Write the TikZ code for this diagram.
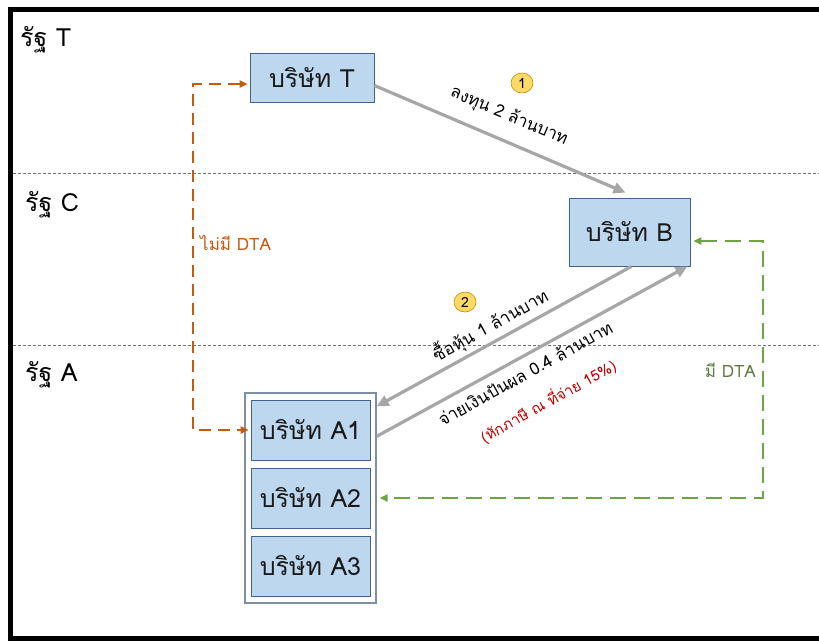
\documentclass[tikz,border=0pt]{standalone}
\usepackage{fontspec}
\setmainfont[Script=Thai]{Loma}
\usetikzlibrary{arrows.meta,calc,shapes.geometric}
\definecolor{boxfill}{HTML}{BDD7EE}
\definecolor{boxline}{HTML}{41648C}
\definecolor{holder}{HTML}{7E8FA3}
\definecolor{flowgray}{HTML}{A6A6A6}
\definecolor{orangeflow}{HTML}{C55A11}
\definecolor{greenflow}{HTML}{6EA544}
\definecolor{greentext}{HTML}{5E7A44}
\definecolor{badge}{HTML}{FFD966}
\definecolor{badgeline}{HTML}{BF9000}
\definecolor{taxred}{HTML}{C00000}
\tikzset{
  company/.style={draw=boxline, line width=0.8pt, fill=boxfill, minimum width=#1,
    font=\fontsize{25}{27}\selectfont, text=black!90, inner sep=0pt},
  statelabel/.style={font=\fontsize{25}{27}\selectfont, anchor=west, inner sep=0pt},
  border/.style={draw=black!55, line width=0.7pt, dash pattern=on 3pt off 2pt},
  money/.style={draw=flowgray, line width=3.2pt,
    -{Triangle[length=12pt,width=11pt]}},
  flowtext/.style={font=\fontsize{17}{19}\selectfont, inner sep=0pt},
  badgemark/.style={ellipse, draw=badgeline, line width=0.6pt, fill=badge,
    minimum width=22pt, minimum height=20pt, inner sep=0pt, font=\fontsize{14}{15}\selectfont},
  dtalink/.style={line width=2pt, {Triangle[length=8pt,width=7pt]}-{Triangle[length=8pt,width=7pt]}},
}
\begin{document}
\begin{tikzpicture}[x=1pt,y=-1pt]
\useasboundingbox (0,0) rectangle (819,641);
\begin{scope}
\clip (0,0) rectangle (819,641);
% outer frame
\draw[line width=4.5pt] (10.5,9.7) rectangle (840,638.5);
\end{scope}

% jurisdiction boundaries
\draw[border] (12.7,173) -- (819,173);
\draw[border] (12.7,345) -- (819,345);

\node[statelabel] (sT) at (20,40) {รัฐ T};
\node[statelabel] (sC) at (25,205) {รัฐ C};
\node[statelabel] (sA) at (25,375) {รัฐ A};

% companies
\node[company=124pt, minimum height=49pt] (T) at (312,77.5) {บริษัท T};
\node[company=121pt, minimum height=68pt] (B) at (629.5,232) {บริษัท B};
\node[draw=holder, line width=1.3pt, fill=white, minimum width=131pt, minimum height=210pt, inner sep=0pt] (grp) at (310.5,498) {};
\node[company=119pt, minimum height=60pt] (A1) at (310.5,430) {บริษัท A1};
\node[company=119pt, minimum height=60pt] (A2) at (310.5,498) {บริษัท A2};
\node[company=119pt, minimum height=60pt] (A3) at (310.5,566) {บริษัท A3};

% investment and dividend flows
\draw[money] ([yshift=-8pt]T.east) -- ([xshift=-4pt,yshift=5pt]B.north);
\draw[money] ([xshift=2pt]B.south) -- ([yshift=-14pt]grp.north east);
\draw[money] ([yshift=-44pt]grp.north east) -- ([xshift=-3pt]B.south east);

\node[flowtext, rotate=-23] (lT) at (509,116) {ลงทุน 2 ล้านบาท};
\node[badgemark] (n1) at (522,83) {1};
\node[flowtext, rotate=29] (lBuy) at (490,325) {ซื้อหุ้น 1 ล้านบาท};
\node[badgemark] (n2) at (465,302) {2};
\node[flowtext, rotate=29] (lDiv) at (525,373) {จ่ายเงินปันผล 0.4 ล้านบาท};
\node[flowtext, rotate=29, text=taxred, font=\fontsize{15}{17}\selectfont] (lTax) at (548,401) {(หักภาษี ณ ที่จ่าย 15\%)};

% DTA relations
\coordinate (oTop) at (193,84);
\draw[dtalink, draw=orangeflow, dash pattern=on 12pt off 7pt]
  ([xshift=-2pt]T.west |- oTop) -- (oTop) |- ([xshift=-2pt]A1.west);
\node[font=\fontsize{17}{19}\selectfont, text=orangeflow, anchor=west, inner sep=0pt] (noDTA) at (200,243) {ไม่มี DTA};

\coordinate (gTop) at (763,241);
\draw[dtalink, draw=greenflow, dash pattern=on 16pt off 8pt]
  ([xshift=3pt]B.east |- gTop) -- (gTop) |- ([xshift=3pt]grp.east |- A2.east);
\node[font=\fontsize{17}{19}\selectfont, text=greentext, anchor=east, inner sep=0pt] (hasDTA) at (756,370) {มี DTA};
\end{tikzpicture}
\end{document}
